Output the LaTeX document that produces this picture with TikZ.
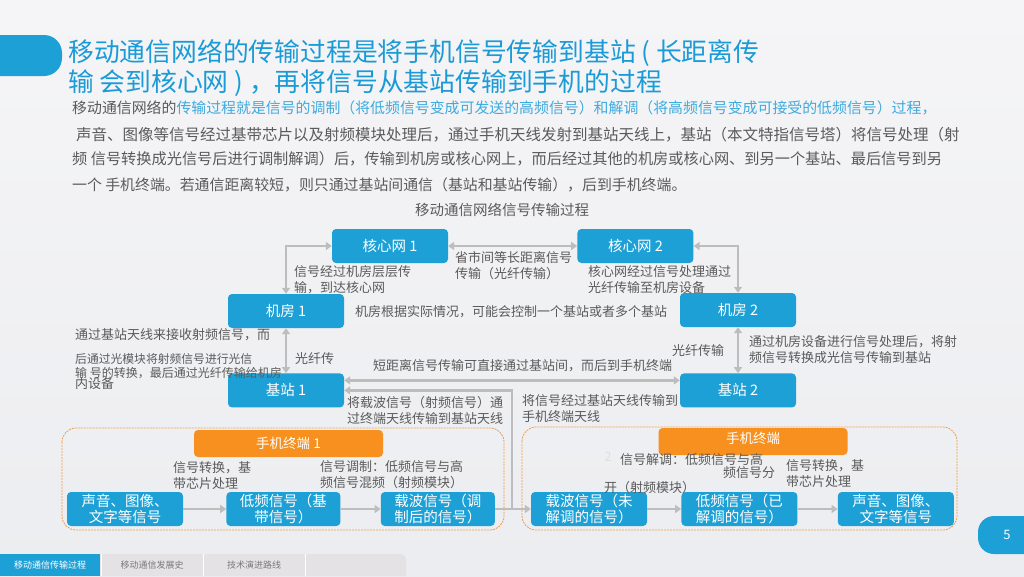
\documentclass[tikz,border=0pt]{standalone}
\usepackage{fontspec}
\setmainfont{Noto Sans CJK SC}
\usepackage{xcolor}
\definecolor{netblue}{HTML}{1DA0D6}
\definecolor{titleblue}{HTML}{1A9BD7}
\definecolor{linkblue}{HTML}{3EAADE}
\definecolor{bodygray}{HTML}{5A5A5A}
\definecolor{wiregray}{HTML}{BDBDBD}
\definecolor{termorange}{HTML}{F7901E}
\definecolor{dashorange}{HTML}{F29A45}
\definecolor{tabbar}{HTML}{E4E2E4}
\definecolor{bgtop}{HTML}{F5F5F7}
\definecolor{bgbottom}{HTML}{ECEDF0}
\usetikzlibrary{arrows.meta, positioning}

\begin{document}
\begin{tikzpicture}[
	x=1pt, y=-1pt,
	node distance=40pt,
	hub/.style={
		rectangle,
		rounded corners=4pt,
		fill=netblue,
		text=white,
		minimum width=116pt,
		minimum height=34pt,
		inner sep=1pt,
		align=center,
		font=\fontsize{14.5}{16}\selectfont,
	},
	termtab/.style={
		rectangle,
		rounded corners=4pt,
		fill=termorange,
		text=white,
		minimum width=189pt,
		minimum height=27pt,
		inner sep=0pt,
		font=\fontsize{13.5}{16}\selectfont,
	},
	group/.style={draw=dashorange, line width=0.8pt, dash pattern=on 2pt off 1pt, rounded corners=14pt},
	note/.style={inner sep=0pt, anchor=west, align=left, text=bodygray, font=\fontsize{13}{16}\selectfont},
	para/.style={inner sep=0pt, anchor=west, text=bodygray, font=\fontsize{15.5}{18}\selectfont},
	wire/.style={line width=2.4pt, draw=wiregray, >={Triangle[width=8pt,length=6pt]}},
	]
	% page background and decorations
	\shade[top color=bgtop, bottom color=bgbottom] (0,0) rectangle (1024,576);
	\useasboundingbox (0,0) rectangle (1024,576);
	\fill[netblue, rounded corners=18pt] (-30,35) rectangle (62,76);
	\fill[netblue, rounded corners=16pt] (978,516) rectangle (1050,554);
	\node[text=white, font=\fontsize{13}{15}\selectfont] (pagenum) at (1007,535) {5};
	
	% title and text
	\node[anchor=west, inner sep=0pt, text=titleblue, font=\fontsize{25.8}{28}\selectfont] (title1) at (68,53) {移动通信网络的传输过程是将手机信号传输到基站 ( 长距离传};
	\node[anchor=west, inner sep=0pt, text=titleblue, font=\fontsize{25.8}{28}\selectfont] (title2) at (68,83) {输 会到核心网 ) ，再将信号从基站传输到手机的过程};
	\node[para, font=\fontsize{14.9}{18}\selectfont] (p1) at (72,108) {移动通信网络的\textcolor{linkblue}{传输过程就是信号的调制（将低频信号变成可发送的高频信号）和解调（将高频信号变成可接受的低频信号）过程，}};
	\node[para] (p2) at (76,135) {声音、图像等信号经过基带芯片以及射频模块处理后，通过手机天线发射到基站天线上，基站（本文特指信号塔）将信号处理（射};
	\node[para, font=\fontsize{15.2}{18}\selectfont] (p3) at (72,159) {频 信号转换成光信号后进行调制解调）后，传输到机房或核心网上，而后经过其他的机房或核心网、到另一个基站、最后信号到另};
	\node[para, font=\fontsize{14.9}{18}\selectfont] (p4) at (72,185) {一个 手机终端。若通信距离较短，则只通过基站间通信（基站和基站传输），后到手机终端。};
	\node[text=bodygray, font=\fontsize{14.5}{17}\selectfont] (caption) at (502,210) {移动通信网络信号传输过程};
	
	% network nodes
	\node[hub] (core1) at (390,246) {核心网 1};
	\node[hub, right=129pt of core1] (core2) {核心网 2};
	\node[hub] (room1) at (286,311) {机房 1};
	\node[hub] (room2) at (738,310) {机房 2};
	\node[hub, below=45pt of room1] (bs1) {基站 1};
	\node[hub, below=46pt of room2] (bs2) {基站 2};
	
	\draw[wire, <->] (room1.north) |- (core1.west);
	\draw[wire, <->] (core1) -- (core2);
	\draw[wire, <->] (core2.east) -| (room2.north);
	\draw[wire, <->] (room1) -- (bs1);
	\draw[wire, <->] (room2) -- (bs2);
	\draw[wire, <->] ([yshift=10pt]bs1.east) -- ([yshift=10pt]bs2.west);
	
	\node[note] (upnote) at (294,280) {信号经过机房层层传\\输，到达核心网};
	\node[note] (longnote) at (455,266) {省市间等长距离信号\\传输（光纤传输）};
	\node[note] (downnote) at (588,280) {核心网经过信号处理通过\\光纤传输至机房设备};
	\node[note] (ctrlnote) at (355,312) {机房根据实际情况，可能会控制一个基站或者多个基站};
	\node[note] (rx1) at (75,335) {通过基站天线来接收射频信号，而};
	\node[note, font=\fontsize{11.8}{14}\selectfont] (rx2) at (75,359) {后通过光模块将射频信号进行光信};
	\node[note, font=\fontsize{12}{14}\selectfont] (rx3) at (75,373) {输 号的转换，最后通过光纤传输给机房};
	\node[note] (rx4) at (75,384) {内设备};
	\node[note] (fiber1) at (295,359) {光纤传};
	\node[note] (shortnote) at (373,366) {短距离信号传输可直接通过基站间，而后到手机终端};
	\node[note] (fiber2) at (672,351) {光纤传输};
	\node[note] (tx2) at (749,350) {通过机房设备进行信号处理后，将射\\频信号转换成光信号传输到基站};
	\node[note] (uplink) at (347,410) {将载波信号（射频信号）通\\过终端天线传输到基站天线};
	\node[note] (downlink) at (522,409) {将信号经过基站天线传输到\\手机终端天线};
	
	% mobile terminals
	\draw[group] (62,428) rectangle (504,530);
	\draw[group] (522,427) rectangle (957,530);
	\node[termtab] (tab1) at (288.5,443.5) {手机终端 1};
	\node[termtab] (tab2) at (753,441.5) {\raisebox{7pt}{手机终端}};
	\node[text=black!12, font=\fontsize{13}{15}\selectfont] (ghost) at (608,457) {2};
	
	\node[hub] (src1) at (125,509) {声音、图像、\\文字等信号};
	\node[hub, right=43pt of src1, minimum width=114pt] (base1) {低频信号（基\\带信号）};
	\node[hub, right=40pt of base1, minimum width=114pt] (carrier1) {载波信号（调\\制后的信号）};
	\node[hub] (carrier2) at (589,509) {载波信号（未\\解调的信号）};
	\node[hub, right=34pt of carrier2] (base2) {低频信号（已\\解调的信号）};
	\node[hub, right=40pt of base2] (src2) {声音、图像、\\文字等信号};
	\coordinate (split) at (512,509);
	
	\draw[wire, ->] (src1) -- (base1);
	\draw[wire, ->] (base1) -- (carrier1);
	\draw[wire] (carrier1) -- (split);
	\draw[wire, ->] (split) |- (bs1.east);
	\draw[wire, ->] (split) -- (carrier2);
	\draw[wire, ->] (carrier2) -- (base2);
	\draw[wire, ->] (base2) -- (src2);
	
	\node[note] (conv1) at (173,476) {信号转换，基\\带芯片处理};
	\node[note] (modnote) at (320,475) {信号调制：低频信号与高\\频信号混频（射频模块）};
	\node[note] (demod1) at (620,460) {信号解调：低频信号与高};
	\node[note] (demod2) at (723,473) {频信号分};
	\node[note] (demod3) at (604,488) {开（射频模块）};
	\node[note] (conv2) at (786,474) {信号转换，基\\带芯片处理};
	
	% bottom tabs
	\fill[tabbar] (0,576) -- (0,554) [rounded corners=6pt] -- (406,554) [sharp corners] -- (406,576) -- cycle;
	\fill[netblue] (0,554) rectangle (100,576);
	\draw[white, line width=1pt] (101,554) -- (101,576) (203,554) -- (203,576) (305,554) -- (305,576);
	\node[text=white, font=\fontsize{9}{11}\selectfont] (tabA) at (50,565) {移动通信传输过程};
	\node[text=bodygray!80, font=\fontsize{9}{11}\selectfont] (tabB) at (152,565) {移动通信发展史};
	\node[text=bodygray!80, font=\fontsize{9}{11}\selectfont] (tabC) at (254,565) {技术演进路线};
\end{tikzpicture}
\end{document}
